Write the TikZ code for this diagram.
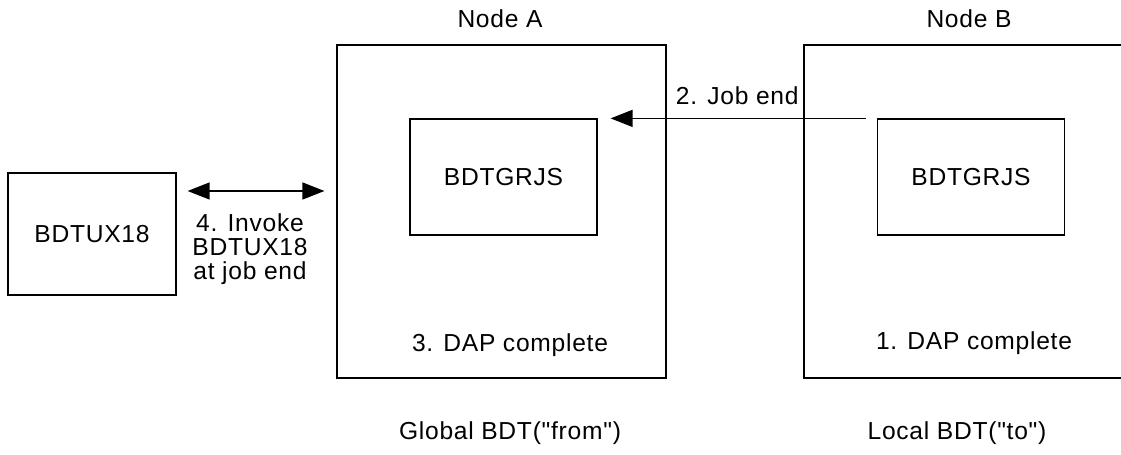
\documentclass[tikz,border=0pt]{standalone}
\usepackage{fontspec}
\newfontfamily\diagfont[LetterSpace=3]{Liberation Sans}
\usepackage{tikz}
\usetikzlibrary{arrows.meta}
\usetikzlibrary{positioning}

\begin{document}
\begin{tikzpicture}[x = 0.02cm, y = -0.02cm,
		font = \diagfont\fontsize{14}{13.5}\selectfont,
		box/.style = {draw, line width = 0.7pt, rectangle, inner sep = 0pt},
		site/.style = {box, minimum width = 6.58cm, minimum height = 6.66cm},
		job/.style = {box, minimum width = 3.74cm, minimum height = 2.32cm},
		tip/.style = {-{Triangle[length = 4.4mm, width = 3.4mm]}},
		twotip/.style = {{Triangle[length = 4.4mm, width = 3.4mm]}-{Triangle[length = 4.4mm, width = 3.4mm]}}]
	\useasboundingbox (0, 0) rectangle (1121, 455);
	\clip (0, 0) rectangle (1121, 455);

	% Nodes
	\node[site] (nodeA) at (501.5, 211.5) {};
	\node[site] (nodeB) at (968.5, 211.5) {};
	\node[job] (grjsA) at (503.5, 177) {BDTGRJS};
	\node[job] (grjsB) at (971, 177) {BDTGRJS};
	\node[box, minimum width = 3.36cm, minimum height = 2.44cm] (ux18) at (92, 234) {BDTUX18};

	% Labels
	\node (labelA) at (500, 19) {Node A};
	\node (labelB) at (969, 19) {Node B};
	\node (doneA) at (510, 345) {3. DAP complete};
	\node (doneB) at (974, 343) {1. DAP complete};
	\node (globalA) at (510, 433) {Global BDT("from")};
	\node (localB) at (957, 433) {Local BDT("to")};

	% Edges
	\draw[line width = 0.7pt, tip, shorten <= 0.22cm, shorten >= 0.26cm] (grjsB.north west) to node[above = 0.14cm] {2. Job end} (grjsA.north east);
	\draw[line width = 0.7pt, twotip, shorten <= 0.22cm, shorten >= 0.24cm] (ux18.east |- 0, 191) to (nodeA.west |- 0, 191);
	\node[align = center] (invoke) at (250, 249) {4. Invoke\\BDTUX18\\at job end};
\end{tikzpicture}
\end{document}
